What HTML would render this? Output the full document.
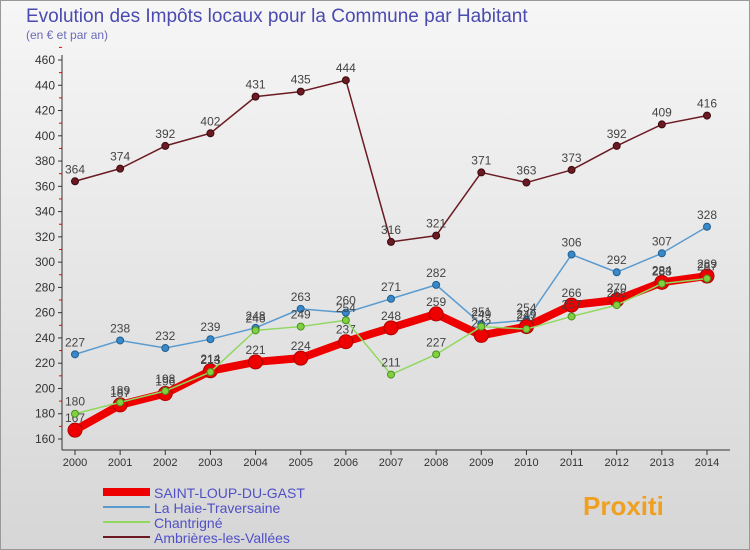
<!DOCTYPE html>
<html><head><meta charset="utf-8"><style>
body{margin:0;width:750px;height:550px;overflow:hidden;font-family:"Liberation Sans",sans-serif;background:#fff}
#wrap{position:absolute;left:0;top:0;width:748px;height:548px;border:1px solid #999;background:linear-gradient(#f6f6f6,#d6d6d6)}
</style></head><body>
<div id="wrap"></div>
<svg id="chart" width="750" height="550" style="position:absolute;left:0;top:0">
<text x="26" y="22" font-size="19" fill="#4a4ab0">Evolution des Impôts locaux pour la Commune par Habitant</text>
<text x="26" y="39" font-size="12" fill="#6a6ab8">(en € et par an)</text>
<g id="axes"></g><g id="series"></g><g id="legend"></g>
</svg>
<script>
const years=[2000,2001,2002,2003,2004,2005,2006,2007,2008,2009,2010,2011,2012,2013,2014];
const yTicks=[160,180,200,220,240,260,280,300,320,340,360,380,400,420,440,460];
const seriesNames=["SAINT-LOUP-DU-GAST","La Haie-Traversaine","Chantrigné","Ambrières-les-Vallées"];
const saintLoup=[167,187,196,214,221,224,237,248,259,242,249,266,270,284,289];
const laHaie=[227,238,232,239,248,263,260,271,282,251,254,306,292,307,328];
const chantrigne=[180,189,198,213,246,249,254,211,227,249,247,257,266,283,287];
const ambrieres=[364,374,392,402,431,435,444,316,321,371,363,373,392,409,416];
const NS="http://www.w3.org/2000/svg";
const xS=i=>75+i*(707-75)/(years.length-1);
const yS=v=>439-(v-160)*(379/300);
function mk(tag,attrs,parent){const e=document.createElementNS(NS,tag);for(const k in attrs)e.setAttribute(k,attrs[k]);parent.appendChild(e);return e;}
const ax=document.getElementById('axes');
let a=mk('line',{x1:62,y1:55,x2:62,y2:450,stroke:'#333'},ax);


a=mk('line',{x1:62,y1:450,x2:730,y2:450,stroke:'#333'},ax);


yTicks.forEach(v=>{
 mk('line',{x1:58,y1:yS(v),x2:62,y2:yS(v),stroke:'#333'},ax);
 mk('line',{x1:59,y1:yS(v+10),x2:62,y2:yS(v+10),stroke:'#e00'},ax);
 const t=mk('text',{x:55,y:yS(v)+4,'font-size':12,fill:'#333','text-anchor':'end'},ax);t.textContent=v;
 
 
});
years.forEach((y,i)=>{
 mk('line',{x1:xS(i),y1:450,x2:xS(i),y2:455,stroke:'#333'},ax);
 const t=mk('text',{x:xS(i),y:466,'font-size':11,fill:'#333','text-anchor':'middle'},ax);t.textContent=y;
 
 
});
const sg=document.getElementById('series');
function draw(data,name,color,w,r,fillc,stroke){
 const g=mk('g',{},sg);
 
 
 mk('polyline',{points:data.map((v,i)=>xS(i)+','+yS(v)).join(' '),fill:'none',stroke:color,'stroke-width':w,'stroke-linejoin':'round'},g);
 data.forEach((v,i)=>{
  const c=mk('circle',{cx:xS(i),cy:yS(v),r:r,fill:fillc,stroke:stroke,'stroke-width':1},g);
  
  
  const t=mk('text',{x:xS(i),y:yS(v)-8,'font-size':12,fill:'#444','text-anchor':'middle'},g);t.textContent=v;
  
  
 });
}
draw(ambrieres,'ambrieres-series','#6b1a22',1.5,3.5,'#6b1a22','#3a0a10');
draw(laHaie,'la-haie-series','#5a9bd0',1.5,3.5,'#3a88c8','#1f5f90');
draw(saintLoup,'saint-loup-series','#ee0000',8,7,'#ee0000','#b00000');
draw(chantrigne,'chantrigne-series','#90d860',1.5,3.5,'#80d040','#4a9020');
const lg=document.getElementById('legend');
const lc=[['#ee0000',8],['#5a9bd0',2],['#90d860',2],['#6b1a22',2]];
seriesNames.forEach((n,i)=>{
 const y=492+i*15;
 const g=mk('g',{},lg);
 
 
 mk('line',{x1:103,y1:y,x2:150,y2:y,stroke:lc[i][0],'stroke-width':lc[i][1]},g);
 const t=mk('text',{x:154,y:y+6,'font-size':14,fill:'#5050c8'},g);t.textContent=n;
});
const p=mk('text',{x:583,y:515,'font-size':26,'font-weight':'bold',fill:'#f0a020'},lg);
p.textContent='Proxiti';


</script>
</body></html>
